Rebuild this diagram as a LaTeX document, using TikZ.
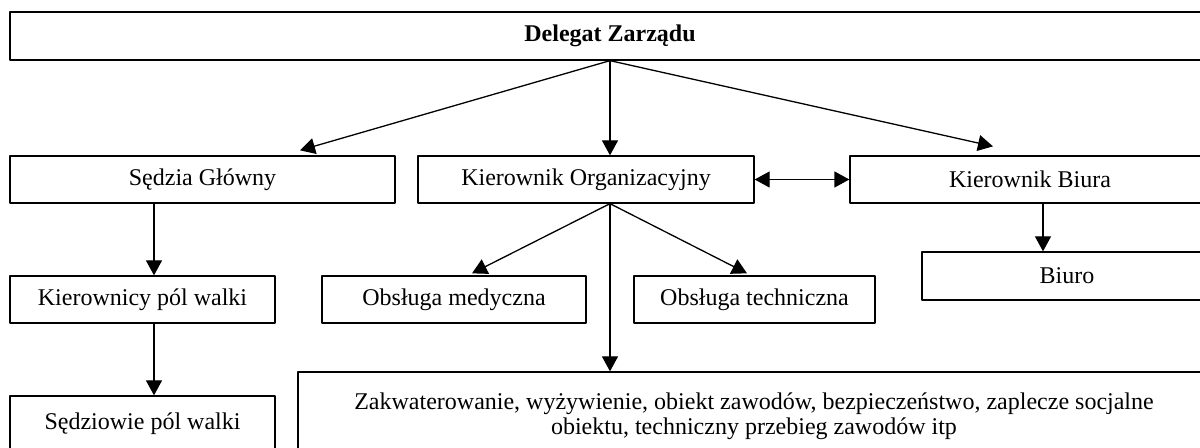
\documentclass[tikz,border=0pt]{standalone}
\usepackage{fontspec}
\setmainfont{Liberation Serif}
\usetikzlibrary{arrows.meta}

\begin{document}
\begin{tikzpicture}[x=0.5pt,y=-0.5pt,line join=round,>={Triangle[length=7.5pt,width=8pt]},
	box/.style={draw,line width=0.65pt,inner sep=0pt,minimum height=23.5pt,font=\fontsize{12}{12.5}\selectfont},
	link/.style={->,line width=0.65pt}]
			\def \w{1200};
			\def \h{448};
			\useasboundingbox (0,0) rectangle (\w,\h);
			% poziom 1
			\node[box,minimum width=600pt,minimum height=24pt] (zarzad) at (610,36) {\bfseries Delegat Zarządu};
			% poziom 2
			\node[box,minimum width=192.5pt] (sedzia) at (202.5,179.5) {Sędzia Główny};
			\node[box,minimum width=168pt] (org) at (586,179.5) {Kierownik Organizacyjny};
			\node[box,minimum width=180pt] (biura) at (1030,179.5) {Kierownik Biura};
			% poziom 3
			\node[box,minimum width=132.5pt] (kier) at (142.5,299.5) {Kierownicy pól walki};
			\node[box,minimum width=132pt] (med) at (454,299.5) {Obsługa medyczna};
			\node[box,minimum width=120.5pt] (tech) at (754.5,299.5) {Obsługa techniczna};
			\node[box,minimum width=145pt,minimum height=24pt] (biuro) at (1067,276) {Biuro};
			% poziom 4
			\node[box,minimum width=132.5pt,minimum height=28pt] (sedziowie) at (142.5,424) {Sędziowie pól walki};
			\node[box,minimum width=456pt,minimum height=44pt,align=center] (zakw) at (754,416)
				{Zakwaterowanie, wyżywienie, obiekt zawodów, bezpieczeństwo, zaplecze socjalne\\obiektu, techniczny przebieg zawodów itp};
			% strzalki
			\draw[link] (zarzad.south) -- ([xshift=48.75pt,yshift=2.5pt]sedzia.north);
			\draw[link] (zarzad.south) -- ([xshift=12pt]org.north);
			\draw[link] (zarzad.south) -- ([xshift=-18.5pt,yshift=4.5pt]biura.north);
			\draw[link,<->] (org.east) -- (biura.west);
			\draw[link] ([xshift=6.5pt]biura.south) -- ([xshift=-12pt]biuro.north);
			\draw[link] ([xshift=-24.25pt]sedzia.south) -- ([xshift=5.75pt]kier.north);
			\draw[link] ([xshift=5.75pt]kier.south) -- ([xshift=5.75pt]sedziowie.north);
			\draw[link] ([xshift=12pt]org.south) -- ([xshift=9pt,yshift=1pt]med.north);
			\draw[link] ([xshift=12pt]org.south) -- ([xshift=-3.75pt,yshift=1pt]tech.north);
			\draw[link] ([xshift=12pt]org.south) -- ([xshift=-72pt]zakw.north);
	\end{tikzpicture}
\end{document}
